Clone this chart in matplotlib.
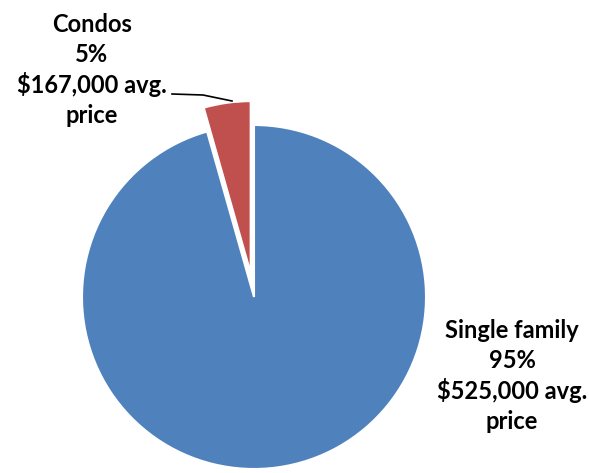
import matplotlib.pyplot as plt

# data
labels = ["Condos", "Single family"]
shares = [4.4, 95.6]          # slice sizes as drawn
pct_labels = ["5%", "95%"]    # percentages as printed
avg_price = ["$167,000", "$525,000"]
colors = ["#C0504D", "#4F81BD"]

W, H = 589, 473
fig = plt.figure(figsize=(W / 100, H / 100), dpi=100)
plt.rcParams['font.family'] = ['Lato', 'DejaVu Sans']

# pie centre (254, 297) px, radius 172 px
cx, cy, r = 254, 297, 172
ax = fig.add_axes([(cx - r) / W, (H - cy - r) / H, 2 * r / W, 2 * r / H])
wedges, _ = ax.pie(shares, colors=colors, startangle=90, counterclock=True,
                   explode=[0.14, 0], radius=1,
                   wedgeprops=dict(edgecolor="white", linewidth=1.5))
for w in wedges:
    w.set_clip_on(False)
ax.set_xlim(-1, 1)
ax.set_ylim(-1, 1)
ax.set_aspect("equal")
ax.axis("off")


def fx(x):
    return x / W


def fy(y):
    return 1 - y / H


txt = dict(fontsize=17, fontweight="bold", ha="center", va="center",
           linespacing=1.33)
fig.text(fx(92), fy(70), "%s\n%s\n%s avg.\nprice" % (labels[0], pct_labels[0], avg_price[0]), **txt)
fig.text(fx(512), fy(376), "%s\n%s\n%s avg.\nprice" % (labels[1], pct_labels[1], avg_price[1]), **txt)

# leader line for condos
fig.add_artist(plt.Line2D([fx(172), fx(203), fx(232)], [fy(94), fy(95), fy(101)],
                          color="black", linewidth=1.2))

fig.savefig("out.png", dpi=100)
